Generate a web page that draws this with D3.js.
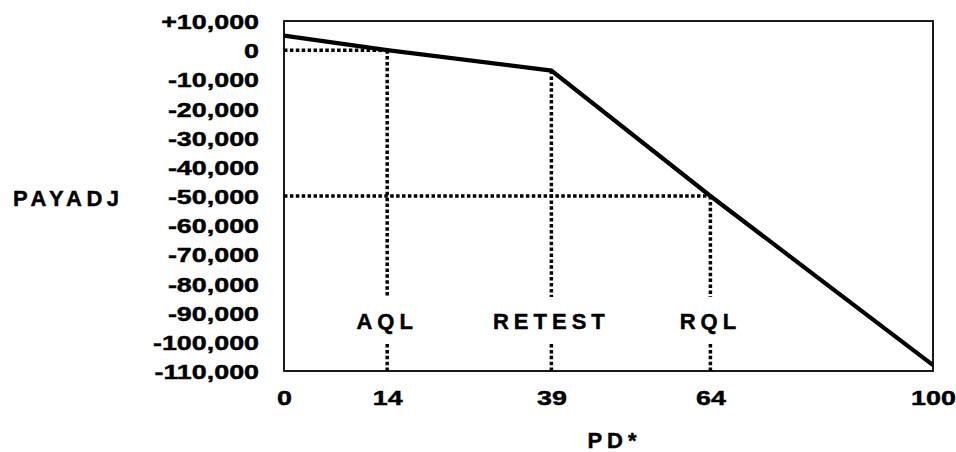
<!DOCTYPE html>
<html>
<head>
<meta charset="utf-8">
<script src="https://cdn.jsdelivr.net/npm/d3@7"></script>
<style>
  html, body { margin: 0; padding: 0; background: #fff; }
  svg { display: block; }
  text { font-family: "Liberation Sans", Arial, Helvetica, sans-serif; font-weight: bold; fill: #000; stroke: #000; stroke-width: 0.45px; }
</style>
</head>
<body>
<svg id="chart" width="956" height="452"></svg>
<script>
// ---- data ----
const pdValues = [0, 14, 39, 64, 100];
const payadjValues = [5000, 0, -7000, -50000, -108000];
const xTickValues = [0, 14, 39, 64, 100];
const yTickValues = [10000, 0, -10000, -20000, -30000, -40000, -50000, -60000, -70000, -80000, -90000, -100000, -110000];
const markerNames = ["AQL", "RETEST", "RQL"];
const markerPD = [14, 39, 64];
const markerPayadj = [0, -7000, -50000];
const refLines = [ {value: 0, to: 14}, {value: -50000, to: 64} ];
const xTitle = "PD*";
const yTitle = "PAYADJ";

(function () {
  // ---- layout ----
  const svg = d3.select("#chart");
  const pL = 284, pR = 933, pT = 21, pB = 371;
  const W = pR - pL;
  // the original x axis is not drawn to a uniform scale
  const xFrac = [0, 0.159, 0.412, 0.657, 1];
  const x = d3.scaleLinear().domain(xTickValues).range(xFrac.map(f => pL + f * W));
  const y = d3.scaleLinear().domain([-110000, 10000]).range([pB, pT]);

  const loc = d3.formatLocale({decimal: ".", thousands: ",", grouping: [3], currency: ["$", ""], minus: "-"});
  const f = loc.format(",");
  const yFmt = v => v > 0 ? "+" + f(v) : f(v);

  const STRETCH = 1.28;

  // frame
  svg.append("rect")
    .attr("x", pL).attr("y", pT).attr("width", W).attr("height", pB - pT)
    .attr("fill", "none").attr("stroke", "#000").attr("stroke-width", 1.8);

  // y axis
  const gy = svg.append("g").attr("transform", `translate(${pL},0)`)
    .call(d3.axisLeft(y).tickValues(yTickValues).tickFormat(yFmt).tickSize(0).tickPadding(19.5));
  gy.select(".domain").remove();
  gy.selectAll("text")
    .attr("font-size", 21).attr("font-family", null).attr("fill", "#000")
    .attr("dy", "0.36em")
    .attr("transform", `scale(${STRETCH},1)`);

  // x axis
  const gx = svg.append("g").attr("transform", `translate(0,${pB})`)
    .call(d3.axisBottom(x).tickValues(xTickValues).tickFormat(d => f(d)).tickSize(0).tickPadding(19));
  gx.select(".domain").remove();
  gx.selectAll("text")
    .attr("font-size", 21).attr("font-family", null).attr("fill", "#000")
    .attr("dy", "0.71em")
    .attr("transform", `scale(${STRETCH},1)`);

  // dotted reference lines
  const dotted = sel => sel.attr("stroke", "#000").attr("stroke-width", 3.5)
    .attr("stroke-dasharray", "3.5,2.4").attr("fill", "none");

  svg.selectAll("line.href").data(refLines).enter().append("line")
    .attr("class", "href")
    .attr("x1", x(0)).attr("x2", d => x(d.to))
    .attr("y1", d => y(d.value)).attr("y2", d => y(d.value))
    .call(dotted);

  const labelBase = 329;
  const gapTop = labelBase - 32, gapBottom = labelBase + 15;
  const markers = markerNames.map((n, i) => ({name: n, pd: markerPD[i], v: markerPayadj[i]}));

  svg.selectAll("line.vtop").data(markers).enter().append("line")
    .attr("class", "vtop")
    .attr("x1", d => x(d.pd)).attr("x2", d => x(d.pd))
    .attr("y1", d => y(d.v)).attr("y2", gapTop)
    .call(dotted);
  svg.selectAll("line.vbot").data(markers).enter().append("line")
    .attr("class", "vbot")
    .attr("x1", d => x(d.pd)).attr("x2", d => x(d.pd))
    .attr("y1", gapBottom).attr("y2", pB)
    .call(dotted);

  svg.selectAll("text.mlabel").data(markers).enter().append("text")
    .attr("class", "mlabel")
    .attr("x", d => x(d.pd)).attr("y", labelBase)
    .attr("text-anchor", "middle")
    .attr("font-size", 22).attr("letter-spacing", 5)
    .text(d => d.name);

  // main line
  const pts = pdValues.map((p, i) => [p, payadjValues[i]]);
  svg.append("path")
    .datum(pts)
    .attr("d", d3.line().x(d => x(d[0])).y(d => y(d[1])))
    .attr("fill", "none").attr("stroke", "#000").attr("stroke-width", 4.2)
    .attr("stroke-linejoin", "miter");

  // axis titles
  svg.append("text")
    .attr("x", (pL + pR) / 2 + 6).attr("y", 448)
    .attr("text-anchor", "middle")
    .attr("font-size", 22).attr("letter-spacing", 5)
    .text(xTitle);

  svg.append("text")
    .attr("x", 13).attr("y", 205.5)
    .attr("text-anchor", "start")
    .attr("font-size", 22).attr("letter-spacing", 4.5)
    .text(yTitle);
})();
</script>
</body>
</html>
